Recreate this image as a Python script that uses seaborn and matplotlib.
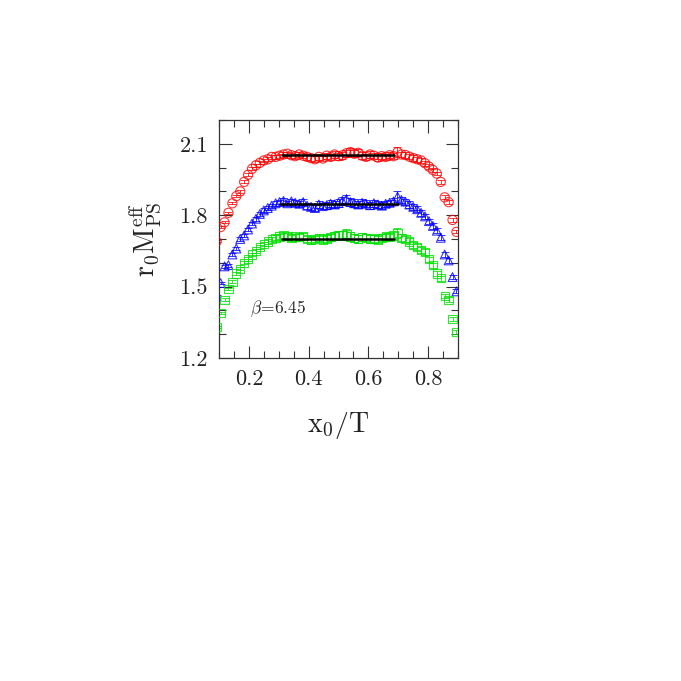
import numpy as np
import matplotlib
matplotlib.use("Agg")
import matplotlib.pyplot as plt
from matplotlib.ticker import MultipleLocator, FormatStrFormatter
import seaborn as sns

# timeslices x0/a = 7..68, T/a = 76
x0 = np.arange(7, 69)
T = 76

m_red = [1.690, 1.750, 1.770, 1.810, 1.850, 1.880, 1.900, 1.940, 1.970, 1.995, 2.010, 2.020, 2.030, 2.035, 2.045, 2.045,
         2.050, 2.055, 2.058, 2.052, 2.048, 2.055, 2.050, 2.045, 2.040, 2.035, 2.045, 2.038, 2.050, 2.045, 2.055,
         2.048, 2.052, 2.060, 2.065, 2.058, 2.062, 2.050, 2.045, 2.055, 2.050, 2.042, 2.048, 2.045, 2.052, 2.048,
         2.065, 2.055, 2.053, 2.046, 2.040, 2.035, 2.030, 2.018, 2.004, 1.990, 1.975, 1.940, 1.875, 1.855, 1.780, 1.730]
m_blue = [1.460, 1.515, 1.585, 1.590, 1.635, 1.660, 1.700, 1.715, 1.740, 1.765, 1.785, 1.805, 1.820, 1.830, 1.840, 1.850,
          1.855, 1.860, 1.850, 1.858, 1.852, 1.848, 1.855, 1.840, 1.835, 1.830, 1.845, 1.838, 1.842, 1.848, 1.845,
          1.852, 1.860, 1.868, 1.855, 1.850, 1.845, 1.852, 1.848, 1.842, 1.850, 1.845, 1.840, 1.848, 1.852, 1.858,
          1.878, 1.864, 1.857, 1.845, 1.835, 1.825, 1.810, 1.795, 1.775, 1.755, 1.735, 1.705, 1.635, 1.610, 1.540, 1.480]
m_green = [1.330, 1.390, 1.445, 1.490, 1.520, 1.555, 1.575, 1.600, 1.615, 1.635, 1.650, 1.665, 1.680, 1.690, 1.700, 1.705,
           1.710, 1.715, 1.712, 1.705, 1.710, 1.708, 1.712, 1.700, 1.695, 1.700, 1.705, 1.698, 1.702, 1.708, 1.712,
           1.718, 1.715, 1.722, 1.710, 1.705, 1.700, 1.708, 1.705, 1.700, 1.702, 1.698, 1.705, 1.710, 1.708, 1.715,
           1.725, 1.705, 1.700, 1.690, 1.675, 1.665, 1.655, 1.645, 1.615, 1.590, 1.555, 1.535, 1.460, 1.445, 1.365, 1.310]

e_red = [0.004, 0.004, 0.004, 0.005, 0.005, 0.005, 0.005, 0.006, 0.006, 0.006, 0.007, 0.007, 0.007, 0.008, 0.008, 0.008,
         0.008, 0.009, 0.009, 0.010, 0.010, 0.010, 0.011, 0.011, 0.012, 0.012, 0.012, 0.012, 0.013, 0.013, 0.014,
         0.014, 0.015, 0.015, 0.016, 0.015, 0.015, 0.014, 0.014, 0.013, 0.013, 0.013, 0.012, 0.012, 0.012, 0.012,
         0.020, 0.012, 0.012, 0.011, 0.011, 0.010, 0.010, 0.010, 0.009, 0.009, 0.008, 0.008, 0.008, 0.007, 0.007, 0.006]
e_blue = [0.005, 0.005, 0.005, 0.006, 0.006, 0.006, 0.007, 0.007, 0.007, 0.008, 0.008, 0.008, 0.009, 0.009, 0.009, 0.010,
          0.010, 0.011, 0.011, 0.011, 0.012, 0.012, 0.012, 0.013, 0.013, 0.013, 0.014, 0.014, 0.014, 0.015, 0.015,
          0.016, 0.016, 0.018, 0.017, 0.016, 0.016, 0.015, 0.015, 0.015, 0.014, 0.014, 0.014, 0.013, 0.013, 0.013,
          0.022, 0.014, 0.013, 0.013, 0.012, 0.012, 0.012, 0.011, 0.011, 0.011, 0.010, 0.010, 0.010, 0.009, 0.009, 0.008]
e_green = [0.005, 0.005, 0.006, 0.006, 0.006, 0.007, 0.007, 0.007, 0.008, 0.008, 0.008, 0.009, 0.009, 0.010, 0.010, 0.010,
           0.011, 0.011, 0.012, 0.012, 0.012, 0.013, 0.013, 0.013, 0.014, 0.014, 0.014, 0.015, 0.015, 0.015, 0.016,
           0.016, 0.017, 0.019, 0.018, 0.017, 0.016, 0.016, 0.015, 0.015, 0.015, 0.014, 0.014, 0.014, 0.013, 0.013,
           0.022, 0.014, 0.014, 0.013, 0.013, 0.012, 0.012, 0.012, 0.011, 0.011, 0.011, 0.010, 0.010, 0.010, 0.009, 0.009]

# plateau fits: value, x start, x end
fit_red = (2.053, 0.312, 0.684)
fit_blue = (1.847, 0.303, 0.698)
fit_green = (1.699, 0.312, 0.684)

sns.set_style("ticks")
plt.rcParams["font.family"] = ["cmr10", "DejaVu Serif"]
plt.rcParams["mathtext.fontset"] = "cm"
plt.rcParams["axes.formatter.use_mathtext"] = True

fig = plt.figure(figsize=(6.81, 6.81), dpi=100)
ax = fig.add_axes([0.3216, 0.4743, 0.351, 0.3495])

xx = x0 / T
series = [
    (m_red, e_red, "#ff0000", "o", 44),
    (m_blue, e_blue, "#0000ff", "^", 40),
    (m_green, e_green, "#00e000", "s", 36),
]
for m, e, col, mk, size in series:
    ax.errorbar(xx, m, yerr=e, fmt="none", ecolor=col, elinewidth=0.7,
                capsize=3.2, capthick=0.7, alpha=0.8, zorder=2)
    sns.scatterplot(x=xx, y=m, marker=mk, s=size, facecolor="none",
                    edgecolor=col, linewidth=0.8, alpha=0.8, ax=ax, zorder=3)

for val, a, b in [fit_red, fit_blue, fit_green]:
    sns.lineplot(x=[a, b], y=[val, val], color="black", linewidth=1.8, ax=ax, zorder=4)

ax.text(0.205, 1.39, r"$\beta\!=\!6.45$", fontsize=12.5)

ax.set_xlim(0.1, 0.9)
ax.set_ylim(1.2, 2.2)
ax.xaxis.set_major_locator(MultipleLocator(0.2))
ax.xaxis.set_minor_locator(MultipleLocator(0.05))
ax.yaxis.set_minor_locator(MultipleLocator(0.1))
ax.yaxis.set_major_formatter(FormatStrFormatter("%.1f"))
ax.xaxis.set_major_formatter(FormatStrFormatter("%.1f"))
ax.set_yticks([1.2, 1.5, 1.8, 2.1])
ax.tick_params(which="both", direction="in", top=True, right=True, width=0.8, color="#333333")
ax.tick_params(which="major", length=9, pad=8, labelsize=16, labelcolor="#222222")
ax.tick_params(which="minor", length=5)
for sp in ax.spines.values():
    sp.set_linewidth(0.9)
    sp.set_color("#333333")

ax.set_xlabel(r"$\mathrm{x_0/T}$", fontsize=20, color="#222222")
ax.set_ylabel(r"$\mathrm{r_0 M_{PS}^{eff}}$", fontsize=20, color="#222222")
ax.xaxis.set_label_coords(0.5, -0.22)
ax.yaxis.set_label_coords(-0.23, 0.5)

fig.savefig("out.png", dpi=100)
